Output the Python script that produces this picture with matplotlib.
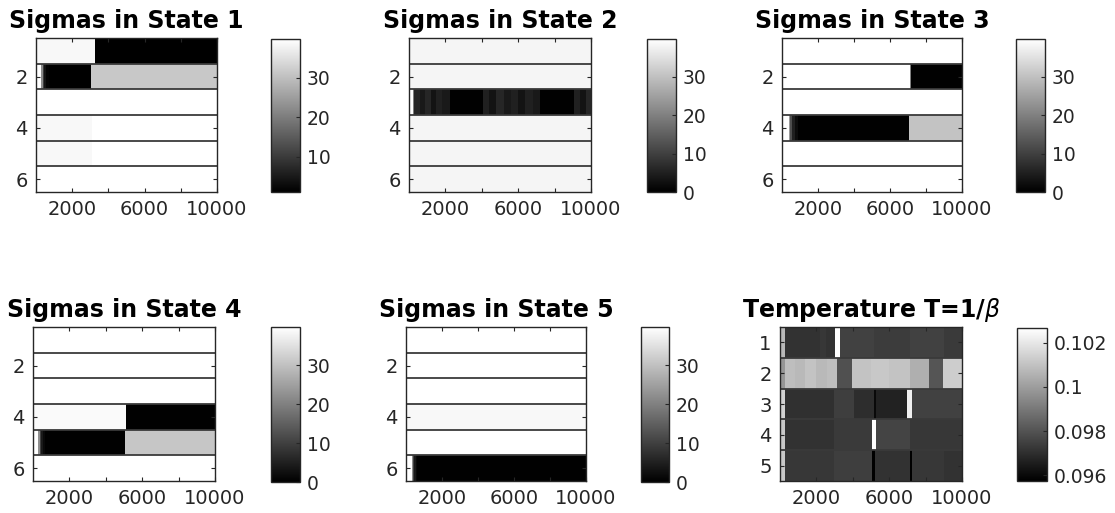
import numpy as np
import matplotlib
matplotlib.use("Agg")
import matplotlib.pyplot as plt
from matplotlib.colors import Normalize

N_ITER = 10000

# (start_iteration, value) segments for each row of each state
state1_rows = [
    [(0, 38.7), (3260, 1.0)],
    [(0, 39.8), (300, 22), (380, 10), (460, 4), (560, 1.5), (700, 1.0), (3020, 31.4)],
    [(0, 39.8)],
    [(0, 38.7), (3080, 39.8)],
    [(0, 38.7), (3080, 39.8)],
    [(0, 39.8)],
]
state2_rows = [
    [(0, 38.2)],
    [(0, 38.2)],
    [(0, 39.8), (230, 20), (300, 6), (600, 4), (900, 6), (1200, 3), (1500, 5), (1800, 4),
     (2240, 0.3), (4080, 5), (4400, 3), (4800, 6), (5200, 4), (5600, 5), (6000, 3),
     (6400, 5), (6800, 4), (7210, 0.3), (9040, 5), (9400, 3), (9700, 6)],
    [(0, 38.2)],
    [(0, 38.2)],
    [(0, 38.2)],
]
state3_rows = [
    [(0, 39.8)],
    [(0, 39.8), (7100, 20), (7170, 0.3)],
    [(0, 39.8)],
    [(0, 39.8), (370, 24), (450, 12), (550, 5), (700, 2), (900, 0.3), (7040, 30.4)],
    [(0, 39.8)],
    [(0, 39.8)],
]
state4_rows = [
    [(0, 39.8)],
    [(0, 39.8)],
    [(0, 39.8)],
    [(0, 39.0), (5100, 0.3)],
    [(0, 39.8), (280, 22), (360, 10), (450, 4), (550, 1.5), (650, 0.3), (5060, 30.8)],
    [(0, 39.8)],
]
state5_rows = [
    [(0, 39.8)],
    [(0, 39.8)],
    [(0, 39.8)],
    [(0, 38.6)],
    [(0, 39.8)],
    [(0, 39.8), (310, 22), (380, 10), (450, 4), (530, 1.5), (620, 0.3)],
]
temp_rows = [
    [(0, 0.10077), (275, 0.09709), (2200, 0.09723), (2500, 0.09709), (3030, 0.10268),
     (3270, 0.09750), (5140, 0.09737), (7160, 0.09750), (9000, 0.09731)],
    [(0, 0.09982), (275, 0.10091), (800, 0.10077), (1400, 0.10104), (2000, 0.10077),
     (2600, 0.10091), (3120, 0.09791), (3950, 0.10104), (5000, 0.10118), (6000, 0.10104),
     (7160, 0.10050), (8170, 0.09805), (8950, 0.10132)],
    [(0, 0.10145), (275, 0.09704), (2950, 0.09742), (4040, 0.09696), (5140, 0.09600),
     (5250, 0.09668), (6970, 0.10227), (7230, 0.09750)],
    [(0, 0.10118), (275, 0.09709), (2950, 0.09731), (5040, 0.10268), (5280, 0.09758),
     (7160, 0.09723)],
    [(0, 0.10118), (275, 0.09723), (2950, 0.09742), (5040, 0.09573), (5200, 0.09709),
     (7150, 0.09573), (7250, 0.09723), (9000, 0.09709)],
]

titles = ["Sigmas in State 1", "Sigmas in State 2", "Sigmas in State 3",
          "Sigmas in State 4", "Sigmas in State 5", r"Temperature T=1/$\beta$"]
clims = [(1.0, 39.8), (0.0, 39.8), (0.0, 39.8), (0.0, 39.8), (0.0, 39.8), (0.09573, 0.10268)]
sigma_cticks = [0, 10, 20, 30]
temp_cticks = [0.096, 0.098, 0.1, 0.102]
temp_cticklabels = ["0.096", "0.098", "0.1", "0.102"]
xticks = [2000, 4000, 6000, 8000, 10000]
xticklabels = ["2000", "", "6000", "", "10000"]

W, H = 1115, 513
fig = plt.figure(figsize=(W / 100, H / 100), dpi=100)
plt.rcParams['font.family'] = ['DejaVu Sans']

# pixel boxes: (x0, x1, ytop, ybottom)
ax_boxes = [(36, 217, 38, 192), (409, 591, 38, 192), (782, 962, 38, 192),
            (33, 215, 327, 481), (406, 586, 327, 481), (780, 962, 327, 481)]
cb_boxes = [(271, 300, 39, 192), (647, 676, 39, 192), (1016, 1045, 39, 192),
            (271, 300, 327, 482), (641, 669, 327, 482), (1017, 1047, 328, 481)]

def rect(b):
    x0, x1, yt, yb = b
    return [x0 / W, 1 - yb / H, (x1 - x0) / W, (yb - yt) / H]

all_rows = [state1_rows, state2_rows, state3_rows, state4_rows, state5_rows, temp_rows]
tc = (0.15, 0.15, 0.15)

for k in range(6):
    ax = fig.add_axes(rect(ax_boxes[k]))
    rows = all_rows[k]
    nr = len(rows)
    vmin, vmax = clims[k]
    norm = Normalize(vmin=vmin, vmax=vmax)
    mesh = None
    for r, segs in enumerate(rows):
        edges = [s for s, _ in segs] + [N_ITER]
        vals = np.array([[v for _, v in segs]])
        mesh = ax.pcolormesh(edges, [r + 0.5, r + 1.5], vals, cmap='gray', norm=norm,
                             shading='flat', edgecolors='none', antialiased=False)
    for r in range(1, nr):
        ax.axhline(r + 0.5, color='#3a3a3a', lw=1.3)
    ax.set_xlim(0, N_ITER)
    ax.set_ylim(nr + 0.5, 0.5)
    ax.set_xticks(xticks)
    ax.set_xticklabels(xticklabels)
    if k < 5:
        ax.set_yticks([2, 4, 6])
    else:
        ax.set_yticks([1, 2, 3, 4, 5])
    ax.tick_params(direction='in', length=3, width=0.8, top=True, right=True,
                   labelsize=14, colors=tc, pad=6)
    for s in ax.spines.values():
        s.set_color(tc)
        s.set_linewidth(1.0)
    ax.set_title(titles[k], fontsize=17, fontweight='bold', pad=7)

    cax = fig.add_axes(rect(cb_boxes[k]))
    cb = fig.colorbar(mesh, cax=cax)
    if k < 5:
        cb.set_ticks([t for t in sigma_cticks if vmin <= t <= vmax])
    else:
        cb.set_ticks(temp_cticks)
        cb.set_ticklabels(temp_cticklabels)
    cax.tick_params(direction='in', length=3, width=0.8, labelsize=13.5, colors=tc, pad=5)
    cb.outline.set_edgecolor(tc)
    cb.outline.set_linewidth(1.0)

fig.savefig("out.png", dpi=100)
